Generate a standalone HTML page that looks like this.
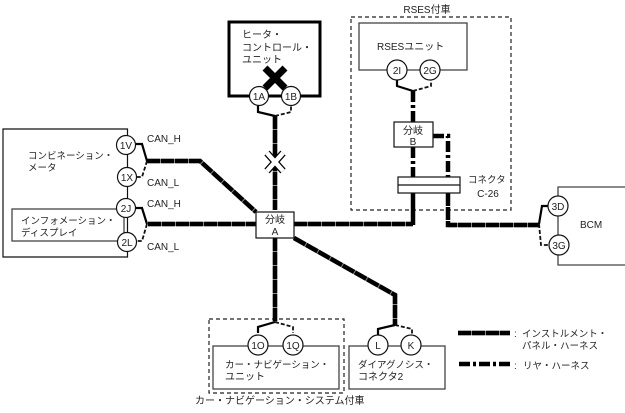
<!DOCTYPE html>
<html><head><meta charset="utf-8">
<style>
html,body{margin:0;padding:0;background:#fff;width:625px;height:413px;overflow:hidden}
svg{display:block}
text{font-family:"Liberation Sans","Noto Sans CJK JP",sans-serif;font-size:10px;fill:#222}
.n{font-size:9.5px}
.b{fill:none;stroke:#111;stroke-width:1.2}
.g{fill:none;stroke:#444;stroke-width:1.3}
.d{fill:none;stroke:#222;stroke-width:1.2;stroke-dasharray:4 3}
.u{fill:none;stroke:#888;stroke-width:4.5}
.i{fill:none;stroke:#000;stroke-width:4.5;stroke-dasharray:13 1}
.r{fill:none;stroke:#000;stroke-width:4.5;stroke-dasharray:11 3 3 3}
.s{fill:none;stroke:#000;stroke-width:2.2}
.t{fill:none;stroke:#111;stroke-width:1.8;stroke-dasharray:4 2}
circle{fill:#fff;stroke:#111;stroke-width:1.2}
</style></head><body>
<svg width="625" height="413" viewBox="0 0 625 413" xmlns="http://www.w3.org/2000/svg">
<rect x="351" y="17" width="160" height="193" class="d"/>
<rect x="209" y="319" width="135" height="74" class="d"/>

<rect x="229" y="22" width="91" height="74" fill="#fff" stroke="#000" stroke-width="3"/>
<rect x="359" y="23" width="108" height="47" class="g"/>
<path d="M3 129H127.5V257H3Z" class="b"/>
<rect x="12" y="209" width="112" height="32" class="g"/>
<rect x="213" y="346" width="126" height="43" class="g"/>
<rect x="349" y="346" width="96" height="43" class="g"/>
<path d="M625 187H558V265H625" class="g"/>

<path d="M275 116V210" class="u"/><path d="M148 224H256" class="u"/><path d="M294 224H413" class="u"/>
<path d="M147 161H200L256 212" class="u"/><path d="M275 238V322" class="u"/><path d="M294 238L395 295V325" class="u"/>
<path d="M448 225H539" class="u"/><path d="M458 333H510" class="u"/>
<path d="M275 116V210" class="i"/>
<path d="M148 224H256" class="i"/>
<path d="M294 224H413" class="i"/>
<path d="M147 161H200L256 212" class="i"/>
<path d="M275 238V322" class="i"/>
<path d="M294 238L395 295V325" class="i"/>
<path d="M413 193V225" fill="none" stroke="#000" stroke-width="4.5"/>
<path d="M448 193V225H539" class="i"/>
<path d="M413 91V122" class="r"/>
<path d="M413 147V177" class="r"/>
<path d="M433 136H448V177" class="r"/>
<path d="M458 333H510" class="i"/>
<path d="M459 364H510" class="r"/>

<path d="M258 106V112L275 116" class="s"/><path d="M275 116L291 112V106" class="t"/>
<path d="M397 80V86L413 91" class="s"/><path d="M413 91L431 86V80" class="t"/>
<path d="M136 144H142L147 161" class="s"/><path d="M147 161L142 177H136" class="t"/>
<path d="M136 208H142L147 224" class="s"/><path d="M147 224L142 241H136" class="t"/>
<path d="M258 333V327L275 322" class="s"/><path d="M275 322L293 327V333" class="t"/>
<path d="M378 335V329L395 325" class="s"/><path d="M395 325L412 329V335" class="t"/>
<path d="M549 206H542L539 224" class="s"/><path d="M539 224L541 245H549" class="t"/>

<path d="M265 68L285 88M285 68L265 88" stroke="#000" stroke-width="7" fill="none"/>
<path d="M267 153L283 171M283 153L267 171" stroke="#000" stroke-width="7" fill="none"/>
<path d="M267 153L283 171M283 153L267 171" stroke="#fff" stroke-width="4.6" fill="none"/>

<rect x="256" y="212" width="38" height="26" class="b" style="fill:#fff"/>
<rect x="394" y="122" width="39" height="25" style="fill:#fff" class="b"/>
<rect x="398" y="177" width="62" height="16" style="fill:#fff" class="b"/>
<path d="M398 185H460" class="b"/>

<circle cx="259" cy="96" r="9.5"/><circle cx="291" cy="96" r="9.5"/>
<circle cx="397" cy="70" r="10"/><circle cx="430" cy="70" r="10"/>
<circle cx="126" cy="145" r="9.5"/><circle cx="127" cy="177" r="9.5"/>
<circle cx="126" cy="208" r="9.5"/><circle cx="127" cy="242" r="9.5"/>
<circle cx="258" cy="345" r="10"/><circle cx="293" cy="345" r="10"/>
<circle cx="378" cy="345" r="10"/><circle cx="411" cy="345" r="10"/>
<circle cx="558" cy="206" r="10"/><circle cx="559" cy="245" r="10"/>

<g text-anchor="middle">
<text x="259" y="100">1A</text><text x="291" y="100">1B</text>
<text x="397" y="74">2I</text><text x="430" y="74">2G</text>
<text x="126" y="149">1V</text><text x="127" y="181">1X</text>
<text x="126" y="212">2J</text><text x="127" y="246">2L</text>
<text x="258" y="349">1O</text><text x="293" y="349">1Q</text>
<text x="378" y="349">L</text><text x="411" y="349">K</text>
<text x="558" y="210">3D</text><text x="559" y="249">3G</text>
<text x="275" y="223">分岐</text><text x="275" y="235">A</text>
<text x="413" y="134">分岐</text><text x="413" y="145">B</text>
<text x="427" y="13">RSES付車</text>
<text x="488" y="197">C-26</text>
</g>
<text x="242" y="38">ヒータ・</text>
<text x="242" y="51">コントロール・</text>
<text x="242" y="63">ユニット</text>
<text x="377" y="50">RSESユニット</text>
<text x="468" y="183" class="n">コネクタ</text>
<text x="28" y="159" class="n">コンビネーション・</text>
<text x="28" y="171" class="n">メータ</text>
<text x="21" y="224" class="n">インフォメーション・</text>
<text x="21" y="236" class="n">ディスプレイ</text>
<text x="147" y="142">CAN_H</text>
<text x="147" y="186">CAN_L</text>
<text x="147" y="207">CAN_H</text>
<text x="147" y="250">CAN_L</text>
<text x="225" y="368" class="n">カー・ナビゲーション・</text>
<text x="225" y="380">ユニット</text>
<text x="358" y="368" class="n">ダイアグノシス・</text>
<text x="358" y="380">コネクタ2</text>
<text x="195" y="404">カー・ナビゲーション・システム付車</text>
<text x="580" y="228">BCM</text>
<text x="514" y="337">:</text>
<text x="522" y="337" class="n">インストルメント・</text>
<text x="522" y="349" class="n">パネル・ハーネス</text>
<text x="514" y="369">:</text>
<text x="523" y="369" class="n">リヤ・ハーネス</text>
</svg>
</body></html>
